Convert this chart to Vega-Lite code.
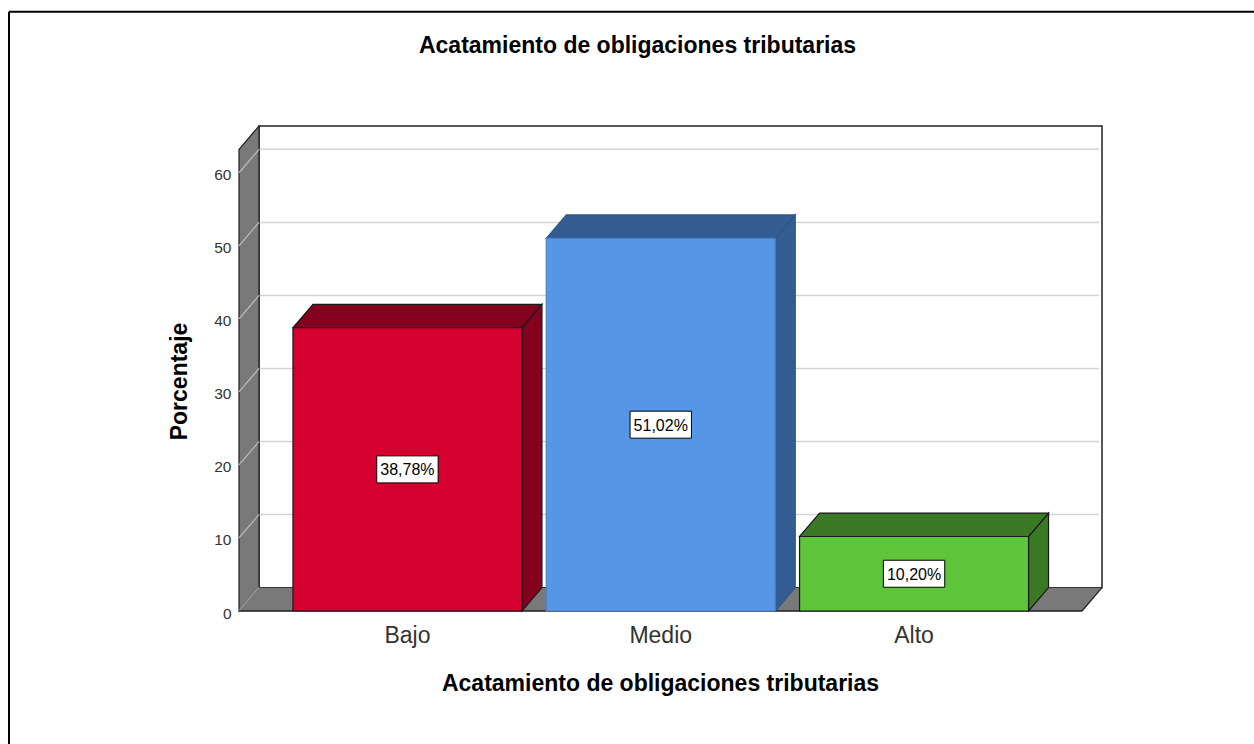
{
  "$schema": "https://vega.github.io/schema/vega-lite/v6.json",
  "width": 863,
  "height": 485,
  "autosize": {"type": "none"},
  "padding": {"left": 239, "top": 126, "right": 152, "bottom": 133},
  "background": "white",
  "config": {
    "view": {"stroke": null},
    "font": "Liberation Sans",
    "axis": {"labelFont": "Liberation Sans", "titleFont": "Liberation Sans"},
    "text": {"font": "Liberation Sans"}
  },
  "params": [
    {"name": "dx", "value": 0.079},
    {"name": "dy", "value": 3.2},
    {"name": "hw", "value": 0.452},
    {"name": "c0", "value": 0.665},
    {"name": "xf", "value": 3.328},
    {"name": "ytop", "value": 63.2}
  ],
  "title": {
    "text": "Acatamiento de obligaciones tributarias",
    "font": "Liberation Sans",
    "fontSize": 23,
    "fontWeight": "bold",
    "color": "#000000",
    "anchor": "middle",
    "dx": -33,
    "baseline": "alphabetic",
    "offset": -65
  },
  "datasets": {
    "niveles": [
      {"nivel": "Bajo", "pct": 38.78},
      {"nivel": "Medio", "pct": 51.02},
      {"nivel": "Alto", "pct": 10.20}
    ],
    "marcas": [
      {"v": 0}, {"v": 10}, {"v": 20}, {"v": 30}, {"v": 40}, {"v": 50}, {"v": 60}
    ]
  },
  "resolve": {"scale": {"fill": "independent", "stroke": "independent"}},
  "layer": [
    {
      "data": {"values": [{}]},
      "mark": {"type": "rule", "color": "#000000", "strokeWidth": 2},
      "encoding": {
        "x": {"datum": -0.908, "type": "quantitative"},
        "y": {"datum": 82.05, "type": "quantitative"},
        "y2": {"datum": -19}
      }
    },
    {
      "data": {"values": [{}]},
      "mark": {"type": "rule", "color": "#000000", "strokeWidth": 2},
      "encoding": {
        "x": {"datum": -0.908, "type": "quantitative"},
        "x2": {"datum": 4.01},
        "y": {"datum": 82.05, "type": "quantitative"}
      }
    },
    {
      "data": {"values": [{}]},
      "mark": {"type": "rect", "fill": "#ffffff", "stroke": "#222222", "strokeWidth": 1.5},
      "encoding": {
        "x": {"datum": 0.079, "type": "quantitative"},
        "x2": {"datum": 3.407},
        "y": {"datum": 3.2, "type": "quantitative"},
        "y2": {"datum": 66.4}
      }
    },
    {
      "data": {"name": "marcas"},
      "transform": [
        {"filter": "datum.v > 0"},
        {"calculate": "datum.v + dy", "as": "yb"}
      ],
      "mark": {"type": "rule", "color": "#d3d3d3", "strokeWidth": 1.5},
      "encoding": {
        "x": {"datum": 0.079, "type": "quantitative"},
        "x2": {"datum": 3.395},
        "y": {"field": "yb", "type": "quantitative"}
      }
    },
    {
      "data": {"values": [{}]},
      "transform": [
        {"calculate": "[0, 1]", "as": "d"},
        {"flatten": ["d"]},
        {"calculate": "datum.d * dx", "as": "wx"},
        {"calculate": "datum.d * dy", "as": "wlo"},
        {"calculate": "ytop + datum.d * dy", "as": "whi"}
      ],
      "mark": {"type": "area", "orient": "vertical", "fill": "#797979", "stroke": "#1e1e1e", "strokeWidth": 1.2},
      "encoding": {
        "x": {"field": "wx", "type": "quantitative"},
        "y": {"field": "wlo", "type": "quantitative", "stack": null},
        "y2": {"field": "whi"}
      }
    },
    {
      "data": {"name": "marcas"},
      "transform": [{"calculate": "datum.v + dy", "as": "yb"}],
      "mark": {"type": "rule", "color": "#bdbdbd", "strokeWidth": 1.2},
      "encoding": {
        "x": {"datum": 0, "type": "quantitative"},
        "x2": {"datum": 0.079},
        "y": {"field": "v", "type": "quantitative"},
        "y2": {"field": "yb"}
      }
    },
    {
      "data": {"values": [{}]},
      "transform": [
        {"calculate": "[0, 1]", "as": "d"},
        {"flatten": ["d"]},
        {"calculate": "datum.d * dy", "as": "fy"},
        {"calculate": "datum.d * dx", "as": "fx0"},
        {"calculate": "xf + datum.d * dx", "as": "fx1"}
      ],
      "mark": {"type": "area", "orient": "horizontal", "fill": "#797979"},
      "encoding": {
        "y": {"field": "fy", "type": "quantitative"},
        "x": {"field": "fx0", "type": "quantitative", "stack": null},
        "x2": {"field": "fx1"}
      }
    },
    {
      "data": {"values": [{}]},
      "mark": {"type": "rule", "color": "#1e1e1e", "strokeWidth": 1.5},
      "encoding": {
        "x": {"datum": 0, "type": "quantitative"},
        "x2": {"datum": 3.328},
        "y": {"datum": 0, "type": "quantitative"}
      }
    },
    {
      "data": {"values": [{}]},
      "mark": {"type": "rule", "color": "#1e1e1e", "strokeWidth": 1.2},
      "encoding": {
        "x": {"datum": 3.328, "type": "quantitative"},
        "x2": {"datum": 3.407},
        "y": {"datum": 0, "type": "quantitative"},
        "y2": {"datum": 3.2}
      }
    },
    {
      "data": {"name": "niveles"},
      "transform": [
        {"calculate": "indexof(['Bajo','Medio','Alto'], datum.nivel)", "as": "i"},
        {"calculate": "c0 + datum.i + hw", "as": "x1"},
        {"calculate": "[0, 1]", "as": "d"},
        {"flatten": ["d"]},
        {"calculate": "datum.x1 + datum.d * dx", "as": "sx"},
        {"calculate": "datum.d * dy", "as": "slo"},
        {"calculate": "datum.pct + datum.d * dy", "as": "shi"}
      ],
      "mark": {"type": "area", "orient": "vertical", "strokeWidth": 1.2},
      "encoding": {
        "x": {"field": "sx", "type": "quantitative"},
        "y": {"field": "slo", "type": "quantitative", "stack": null},
        "y2": {"field": "shi"},
        "detail": {"field": "nivel"},
        "fill": {"field": "nivel", "type": "nominal", "legend": null,
          "scale": {"domain": ["Bajo", "Medio", "Alto"], "range": ["#83001f", "#335d92", "#3a7a25"]}},
        "stroke": {"field": "nivel", "type": "nominal", "legend": null,
          "scale": {"domain": ["Bajo", "Medio", "Alto"], "range": ["#1a1a1a", "#2e5687", "#1a1a1a"]}}
      }
    },
    {
      "data": {"name": "niveles"},
      "transform": [
        {"calculate": "indexof(['Bajo','Medio','Alto'], datum.nivel)", "as": "i"},
        {"calculate": "c0 + datum.i - hw", "as": "x0"},
        {"calculate": "c0 + datum.i + hw", "as": "x1"},
        {"calculate": "[0, 1]", "as": "d"},
        {"flatten": ["d"]},
        {"calculate": "datum.pct + datum.d * dy", "as": "ty"},
        {"calculate": "datum.x0 + datum.d * dx", "as": "tx0"},
        {"calculate": "datum.x1 + datum.d * dx", "as": "tx1"}
      ],
      "mark": {"type": "area", "orient": "horizontal", "strokeWidth": 1.2},
      "encoding": {
        "y": {"field": "ty", "type": "quantitative"},
        "x": {"field": "tx0", "type": "quantitative", "stack": null},
        "x2": {"field": "tx1"},
        "detail": {"field": "nivel"},
        "fill": {"field": "nivel", "type": "nominal", "legend": null,
          "scale": {"domain": ["Bajo", "Medio", "Alto"], "range": ["#83001f", "#335d92", "#3a7a25"]}},
        "stroke": {"field": "nivel", "type": "nominal", "legend": null,
          "scale": {"domain": ["Bajo", "Medio", "Alto"], "range": ["#1a1a1a", "#2e5687", "#1a1a1a"]}}
      }
    },
    {
      "data": {"name": "niveles"},
      "transform": [
        {"calculate": "indexof(['Bajo','Medio','Alto'], datum.nivel)", "as": "i"},
        {"calculate": "c0 + datum.i - hw", "as": "x0"},
        {"calculate": "c0 + datum.i + hw", "as": "x1"}
      ],
      "mark": {"type": "rect", "strokeWidth": 1.2},
      "encoding": {
        "x": {
          "field": "x0", "type": "quantitative",
          "scale": {"domain": [0, 3.407], "nice": false, "zero": false},
          "axis": {
            "ticks": false, "domain": false, "labels": false, "grid": false,
            "title": "Acatamiento de obligaciones tributarias",
            "titleFontSize": 23, "titleFontWeight": "bold", "titleColor": "#000000",
            "titleX": 421, "titleY": 79.5, "titleAlign": "center", "titleBaseline": "alphabetic"
          }
        },
        "x2": {"field": "x1"},
        "y": {
          "field": "pct", "type": "quantitative",
          "scale": {"domain": [0, 66.4], "nice": false, "zero": false},
          "axis": {
            "values": [0, 10, 20, 30, 40, 50, 60],
            "ticks": false, "domain": false, "grid": false,
            "labelFontSize": 15.5, "labelColor": "#333333", "labelPadding": 8, "labelOffset": 2,
            "title": "Porcentaje",
            "titleFontSize": 23, "titleFontWeight": "bold", "titleColor": "#000000",
            "titleX": -60, "titleY": 255, "titleAngle": -90, "titleAlign": "center", "titleBaseline": "middle"
          }
        },
        "y2": {"datum": 0},
        "fill": {"field": "nivel", "type": "nominal", "legend": null,
          "scale": {"domain": ["Bajo", "Medio", "Alto"], "range": ["#d5002f", "#5596e6", "#5ec43a"]}},
        "stroke": {"field": "nivel", "type": "nominal", "legend": null,
          "scale": {"domain": ["Bajo", "Medio", "Alto"], "range": ["#1a1a1a", "#4a80c4", "#1a1a1a"]}}
      }
    },
    {
      "data": {"name": "niveles"},
      "transform": [
        {"calculate": "indexof(['Bajo','Medio','Alto'], datum.nivel)", "as": "i"},
        {"calculate": "c0 + datum.i", "as": "cx"},
        {"calculate": "datum.pct / 2", "as": "cy"}
      ],
      "mark": {"type": "point", "shape": "M-1,-0.44L1,-0.44L1,0.44L-1,0.44Z", "size": 3770, "filled": true, "fill": "#ffffff", "stroke": "#000000", "strokeWidth": 1, "opacity": 1},
      "encoding": {
        "x": {"field": "cx", "type": "quantitative"},
        "y": {"field": "cy", "type": "quantitative"}
      }
    },
    {
      "data": {"name": "niveles"},
      "transform": [
        {"calculate": "indexof(['Bajo','Medio','Alto'], datum.nivel)", "as": "i"},
        {"calculate": "c0 + datum.i", "as": "cx"},
        {"calculate": "datum.pct / 2", "as": "cy"},
        {"calculate": "replace(format(datum.pct, '.2f'), '.', ',') + '%'", "as": "etiqueta"}
      ],
      "mark": {"type": "text", "fontSize": 16, "color": "#000000", "align": "center", "baseline": "middle", "dy": 1},
      "encoding": {
        "x": {"field": "cx", "type": "quantitative"},
        "y": {"field": "cy", "type": "quantitative"},
        "text": {"field": "etiqueta"}
      }
    },
    {
      "data": {"name": "niveles"},
      "transform": [
        {"calculate": "indexof(['Bajo','Medio','Alto'], datum.nivel)", "as": "i"},
        {"calculate": "c0 + datum.i", "as": "cx"}
      ],
      "mark": {"type": "text", "fontSize": 23, "color": "#333333", "align": "center", "baseline": "alphabetic", "dy": 32},
      "encoding": {
        "x": {"field": "cx", "type": "quantitative"},
        "y": {"datum": 0, "type": "quantitative"},
        "text": {"field": "nivel"}
      }
    }
  ]
}
